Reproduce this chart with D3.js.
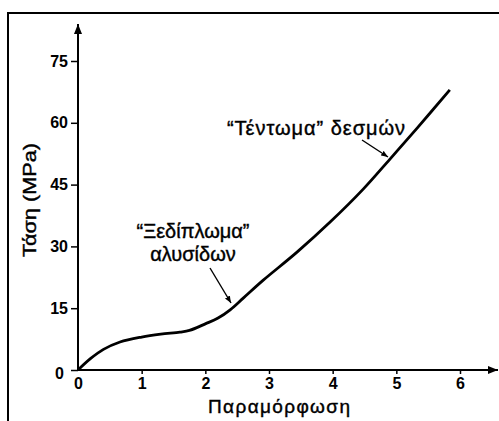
<!DOCTYPE html>
<html lang="el">
<head>
<meta charset="utf-8"/>
<style>
  body { margin: 0; background: #fff; }
  text { font-family: "Liberation Sans", Arial, sans-serif; fill: #000; }
</style>
</head>
<body>
<svg id="container" width="499" height="421"></svg>
<script src="https://d3js.org/d3.v7.min.js"></script>
<script>
// strain (x) and stress in MPa (y)
let strain = [0, 0.2, 0.4, 0.66, 1.0, 1.3, 1.6, 1.75, 2.0, 2.2, 2.39, 2.6, 2.91, 3.44, 3.96, 4.48, 4.9, 5.32, 5.84]
let stress = [0, 2.8, 5.0, 6.8, 8.0, 8.7, 9.2, 9.6, 11.2, 12.6, 14.6, 17.5, 21.8, 28.6, 35.9, 43.9, 51.2, 58.6, 68.0]
let xTicks = [0, 1, 2, 3, 4, 5, 6]
let yTicks = [0, 15, 30, 45, 60, 75]
let xTitle = "Παραμόρφωση"
let yTitle = "Τάση (MPa)"
let note1 = ["“Ξεδίπλωμα”", "αλυσίδων"]
let note2 = "“Τέντωμα” δεσμών"

let svg = d3.select("svg")

let x = d3.scaleLinear().domain([0, 6]).range([78, 460])
let y = d3.scaleLinear().domain([0, 75]).range([370, 61])

// frame
svg.append("rect")
  .attr("x", 8).attr("y", 13)
  .attr("width", 520).attr("height", 440)
  .attr("fill", "none").attr("stroke", "#000").attr("stroke-width", 2)

let defs = svg.append("defs")
defs.append("marker")
  .attr("id", "head").attr("viewBox", "0 0 10 10")
  .attr("refX", 10).attr("refY", 5)
  .attr("markerWidth", 10).attr("markerHeight", 10)
  .attr("markerUnits", "userSpaceOnUse")
  .attr("orient", "auto")
  .append("path").attr("d", "M0,1 L10,5 L0,9 Z").attr("fill", "#000")
defs.append("marker")
  .attr("id", "small").attr("viewBox", "0 0 10 10")
  .attr("refX", 10).attr("refY", 5)
  .attr("markerWidth", 7).attr("markerHeight", 7)
  .attr("markerUnits", "userSpaceOnUse")
  .attr("orient", "auto")
  .append("path").attr("d", "M0,1 L10,5 L0,9 Z").attr("fill", "#000")

// axes
let xAxis = svg.append("g").attr("transform", "translate(0,370)")
  .call(d3.axisBottom(x).tickValues(xTicks).tickSize(4).tickPadding(4).tickFormat(d3.format("d")))
let yAxis = svg.append("g").attr("transform", "translate(78,0)")
  .call(d3.axisLeft(y).tickValues(yTicks).tickSize(7).tickPadding(3).tickFormat(d3.format("d")))
for (let g of [xAxis, yAxis]) {
  g.select(".domain").remove()
  g.selectAll("line").attr("stroke", "#000").attr("stroke-width", 1.5)
  g.selectAll("text").attr("font-size", 16).attr("font-weight", "bold")
    .attr("font-family", "Liberation Sans, Arial, sans-serif")
}
yAxis.selectAll(".tick").filter(d => d === 0).select("text").attr("dx", -4).attr("dy", "0.5em")
xAxis.selectAll(".tick").filter(d => d === 0).select("line").remove()

svg.append("line")
  .attr("x1", x(0)).attr("y1", y(0)).attr("x2", 498).attr("y2", y(0))
  .attr("stroke", "#000").attr("stroke-width", 2).attr("marker-end", "url(#head)")
svg.append("line")
  .attr("x1", x(0)).attr("y1", y(0) + 1).attr("x2", x(0)).attr("y2", 24)
  .attr("stroke", "#000").attr("stroke-width", 2).attr("marker-end", "url(#head)")

// curve
let pts = strain.map((s, i) => [s, stress[i]])
let line = d3.line().x(d => x(d[0])).y(d => y(d[1])).curve(d3.curveCatmullRom.alpha(0.5))
svg.append("path").datum(pts)
  .attr("d", line)
  .attr("fill", "none").attr("stroke", "#000").attr("stroke-width", 2.8)

// titles
svg.append("text").text(xTitle)
  .attr("x", 279).attr("y", 413).attr("text-anchor", "middle")
  .attr("font-size", 19).attr("textLength", 142).attr("lengthAdjust", "spacing")
  .attr("stroke", "#000").attr("stroke-width", 0.4)
svg.append("text").text(yTitle)
  .attr("transform", "translate(36,200) rotate(-90)")
  .attr("text-anchor", "middle")
  .attr("font-size", 18).attr("textLength", 114).attr("lengthAdjust", "spacingAndGlyphs")
  .attr("stroke", "#000").attr("stroke-width", 0.4)

// annotations
svg.append("text").attr("class", "note").selectAll("tspan").data(note1).enter().append("tspan")
  .text(d => d)
  .attr("x", 193).attr("y", (d, i) => 238 + i * 23)
  .attr("text-anchor", "middle")
svg.selectAll(".note tspan").attr("font-size", 20).attr("stroke", "#000").attr("stroke-width", 0.4)
svg.append("line")
  .attr("x1", 210).attr("y1", 268).attr("x2", 231).attr("y2", 303)
  .attr("stroke", "#000").attr("stroke-width", 1.4).attr("marker-end", "url(#small)")

svg.append("text").text(note2)
  .attr("x", 227).attr("y", 135)
  .attr("font-size", 20).attr("textLength", 178).attr("lengthAdjust", "spacing")
  .attr("stroke", "#000").attr("stroke-width", 0.4)
svg.append("line")
  .attr("x1", 362).attr("y1", 140).attr("x2", 388).attr("y2", 157)
  .attr("stroke", "#000").attr("stroke-width", 1.4).attr("marker-end", "url(#small)")
</script>
</body>
</html>
